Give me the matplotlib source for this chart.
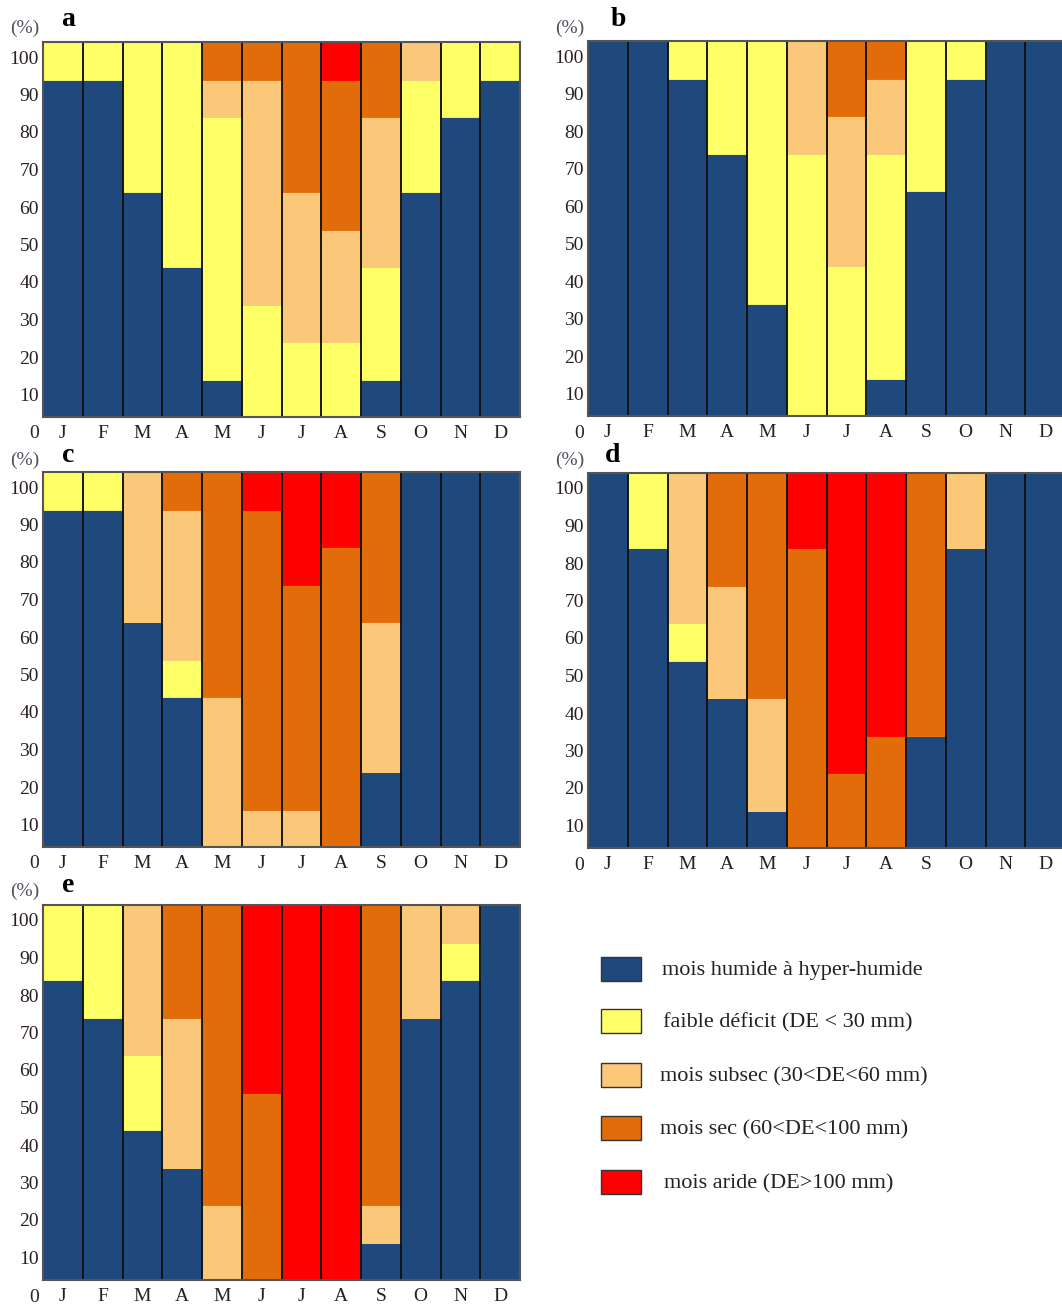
import matplotlib
matplotlib.use("Agg")
import matplotlib.pyplot as plt
from matplotlib.patches import Rectangle
from matplotlib.transforms import ScaledTranslation
import numpy as np

plt.rcParams['font.family'] = ['Liberation Serif', 'DejaVu Serif']

months = ["J", "F", "M", "A", "M", "J", "J", "A", "S", "O", "N", "D"]
categories = ["mois humide à hyper-humide", "faible déficit (DE < 30 mm)",
              "mois subsec (30<DE<60 mm)", "mois sec (60<DE<100 mm)",
              "mois aride (DE>100 mm)"]
colors = ["#1f497d", "#ffff66", "#fac878", "#e36c0a", "#ff0000"]

# each panel: rows = humide, faible, subsec, sec, aride (percent per month)
panel_a_humide = [90, 90, 60, 40, 10, 0, 0, 0, 10, 60, 80, 90]
panel_a_faible = [10, 10, 40, 60, 70, 30, 20, 20, 30, 30, 20, 10]
panel_a_subsec = [0, 0, 0, 0, 10, 60, 40, 30, 40, 10, 0, 0]
panel_a_sec = [0, 0, 0, 0, 10, 10, 40, 40, 20, 0, 0, 0]
panel_a_aride = [0, 0, 0, 0, 0, 0, 0, 10, 0, 0, 0, 0]

panel_b_humide = [100, 100, 90, 70, 30, 0, 0, 10, 60, 90, 100, 100]
panel_b_faible = [0, 0, 10, 30, 70, 70, 40, 60, 40, 10, 0, 0]
panel_b_subsec = [0, 0, 0, 0, 0, 30, 40, 20, 0, 0, 0, 0]
panel_b_sec = [0, 0, 0, 0, 0, 0, 20, 10, 0, 0, 0, 0]
panel_b_aride = [0, 0, 0, 0, 0, 0, 0, 0, 0, 0, 0, 0]

panel_c_humide = [90, 90, 60, 40, 0, 0, 0, 0, 20, 100, 100, 100]
panel_c_faible = [10, 10, 0, 10, 0, 0, 0, 0, 0, 0, 0, 0]
panel_c_subsec = [0, 0, 40, 40, 40, 10, 10, 0, 40, 0, 0, 0]
panel_c_sec = [0, 0, 0, 10, 60, 80, 60, 80, 40, 0, 0, 0]
panel_c_aride = [0, 0, 0, 0, 0, 10, 30, 20, 0, 0, 0, 0]

panel_d_humide = [100, 80, 50, 40, 10, 0, 0, 0, 30, 80, 100, 100]
panel_d_faible = [0, 20, 10, 0, 0, 0, 0, 0, 0, 0, 0, 0]
panel_d_subsec = [0, 0, 40, 30, 30, 0, 0, 0, 0, 20, 0, 0]
panel_d_sec = [0, 0, 0, 30, 60, 80, 20, 30, 70, 0, 0, 0]
panel_d_aride = [0, 0, 0, 0, 0, 20, 80, 70, 0, 0, 0, 0]

panel_e_humide = [80, 70, 40, 30, 0, 0, 0, 0, 10, 70, 80, 100]
panel_e_faible = [20, 30, 20, 0, 0, 0, 0, 0, 0, 0, 10, 0]
panel_e_subsec = [0, 0, 40, 40, 20, 0, 0, 0, 10, 30, 10, 0]
panel_e_sec = [0, 0, 0, 30, 80, 50, 0, 0, 80, 0, 0, 0]
panel_e_aride = [0, 0, 0, 0, 0, 50, 100, 100, 0, 0, 0, 0]

panels = {
    "a": [panel_a_humide, panel_a_faible, panel_a_subsec, panel_a_sec, panel_a_aride],
    "b": [panel_b_humide, panel_b_faible, panel_b_subsec, panel_b_sec, panel_b_aride],
    "c": [panel_c_humide, panel_c_faible, panel_c_subsec, panel_c_sec, panel_c_aride],
    "d": [panel_d_humide, panel_d_faible, panel_d_subsec, panel_d_sec, panel_d_aride],
    "e": [panel_e_humide, panel_e_faible, panel_e_subsec, panel_e_sec, panel_e_aride],
}

W, H = 1062, 1305
fig = plt.figure(figsize=(W / 100, H / 100), dpi=100)

# (left px, top px) of each axes, plus label positions (x,y px) of "(%)" and letter
layout = {
    "a": (43, 42, (25, 28), (68, 20)),
    "b": (588, 41, (570, 28), (618, 20)),
    "c": (43, 472, (25, 460), (68, 456)),
    "d": (588, 473, (570, 460), (613, 456)),
    "e": (43, 905, (25, 891), (68, 886)),
}
aw, ah = 477, 375

for key, rows in panels.items():
    left, top, pct_pos, let_pos = layout[key]
    ax = fig.add_axes([left / W, 1 - (top + ah) / H, aw / W, ah / H])
    x = np.arange(12)
    bottom = np.zeros(12)
    for vals, c in zip(rows, colors):
        v = np.array(vals, dtype=float)
        ax.bar(x, v, width=1.0, bottom=bottom, color=c, edgecolor=c,
               linewidth=0.6, zorder=2)
        bottom += v
    ax.bar(x, bottom, width=1.0, fill=False, edgecolor="#111111",
           linewidth=1.1, zorder=3)
    ax.set_xlim(-0.5, 11.5)
    ax.set_ylim(0, 100)
    ax.set_xticks(x)
    ax.set_xticklabels(months, fontsize=14, color="#222222")
    ax.set_yticks(range(0, 101, 10))
    ax.set_yticklabels([str(v) for v in range(0, 101, 10)], fontsize=14,
                       color="#2a2020")
    ax.tick_params(axis="both", length=0)
    ax.tick_params(axis="x", pad=6)
    ax.tick_params(axis="y", pad=3)
    off = ScaledTranslation(0, -15 / 100, fig.dpi_scale_trans)
    for lab in ax.get_yticklabels():
        lab.set_transform(lab.get_transform() + off)
    for s in ax.spines.values():
        s.set_color("#555555")
        s.set_linewidth(1.5)
        s.set_zorder(4)
    fig.text(pct_pos[0] / W, 1 - pct_pos[1] / H, "(%)", fontsize=14,
             color="#505060", ha="center", va="center")
    fig.text(let_pos[0] / W, 1 - let_pos[1] / H, key, fontsize=20,
             fontweight="bold", color="black", ha="center", va="center")

# legend
leg_y = [969, 1021, 1075, 1128, 1182]
leg_tx = [662, 663, 660, 660, 664]
for cat, c, yy, tx in zip(categories, colors, leg_y, leg_tx):
    fig.patches.append(Rectangle(((601) / W, 1 - (yy + 12) / H), 40 / W, 24 / H,
                                 transform=fig.transFigure, facecolor=c,
                                 edgecolor="#333333", linewidth=1.0))
    fig.text(tx / W, 1 - (yy + 2) / H, cat, fontsize=16, color="#222222",
             ha="left", va="center")

fig.savefig("out.png", dpi=100)
